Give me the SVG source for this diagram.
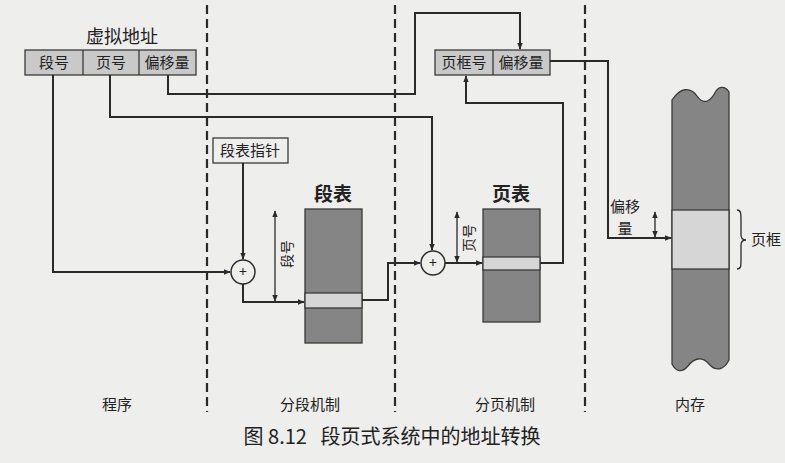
<svg xmlns="http://www.w3.org/2000/svg" width="785" height="463" viewBox="0 0 785 463">
<style>
.t{font-family:"Noto Sans CJK SC","Noto Sans",sans-serif;fill:#222;}
.ln{fill:none;stroke:#2a2a2a;stroke-width:2;}
.dash{fill:none;stroke:#2a2a2a;stroke-width:2.2;stroke-dasharray:9,5;}
.box{fill:#c9c9c9;stroke:#3a3a3a;stroke-width:1.3;}
.dark{fill:#858585;stroke:#3a3a3a;stroke-width:1.3;}
.light{fill:#d6d6d6;stroke:#3a3a3a;stroke-width:1.3;}
</style>
<defs>
<marker id="ah" viewBox="0 0 10 10" refX="9" refY="5" markerWidth="7" markerHeight="7" orient="auto-start-reverse" markerUnits="userSpaceOnUse">
<path d="M0,1 L10,5 L0,9 Z" fill="#2a2a2a"/>
</marker>
</defs>
<rect width="785" height="463" fill="#eeeeec"/>

<g id="dividers">
<line class="dash" x1="207" y1="5" x2="207" y2="412"/>
<line class="dash" x1="395" y1="5" x2="395" y2="412"/>
<line class="dash" x1="585" y1="5" x2="585" y2="412"/>
</g>

<g id="virtual-address">
<text class="t" x="122" y="43" font-size="18" text-anchor="middle">虚拟地址</text>
<rect class="box" x="25" y="50" width="171" height="25"/>
<line stroke="#3a3a3a" stroke-width="1.3" x1="83" y1="50" x2="83" y2="75"/>
<line stroke="#3a3a3a" stroke-width="1.3" x1="139" y1="50" x2="139" y2="75"/>
<text class="t" x="54" y="68" font-size="15" text-anchor="middle">段号</text>
<text class="t" x="111" y="68" font-size="15" text-anchor="middle">页号</text>
<text class="t" x="167" y="68" font-size="15" text-anchor="middle">偏移量</text>
</g>

<g id="seg-pointer">
<rect x="213" y="138" width="75" height="25" fill="#eeeeec" stroke="#3a3a3a" stroke-width="1.3"/>
<text class="t" x="250" y="156" font-size="15" text-anchor="middle">段表指针</text>
</g>

<g id="adder1">
<circle cx="243" cy="272" r="12" fill="#eeeeec" stroke="#2a2a2a" stroke-width="1.5"/>
<text class="t" x="243" y="277" font-size="14" text-anchor="middle">+</text>
</g>

<g id="segment-table">
<text class="t" x="333" y="201" font-size="19" font-weight="bold" text-anchor="middle">段表</text>
<rect class="dark" x="305" y="209" width="57" height="134"/>
<rect class="light" x="305" y="293" width="57" height="15"/>
</g>

<g id="adder2">
<circle cx="433" cy="263" r="12" fill="#eeeeec" stroke="#2a2a2a" stroke-width="1.5"/>
<text class="t" x="433" y="268" font-size="14" text-anchor="middle">+</text>
</g>

<g id="page-table">
<text class="t" x="511" y="201" font-size="19" font-weight="bold" text-anchor="middle">页表</text>
<rect class="dark" x="483" y="209" width="57" height="113"/>
<rect class="light" x="483" y="257" width="57" height="13"/>
</g>

<g id="physical-address">
<rect class="box" x="435" y="50" width="115" height="25"/>
<line stroke="#3a3a3a" stroke-width="1.3" x1="493" y1="50" x2="493" y2="75"/>
<text class="t" x="464" y="68" font-size="15" text-anchor="middle">页框号</text>
<text class="t" x="521" y="68" font-size="15" text-anchor="middle">偏移量</text>
</g>

<g id="memory">
<path class="dark" d="M672,100 C680,88 690,86 697,96 C704,106 711,101 716,91 C720,85 726,87 729,92 L729,360 C724,370 716,372 709,364 C702,356 694,358 688,366 C682,373 676,372 672,364 Z"/>
<rect class="light" x="672" y="210" width="57" height="59"/>
<path d="M737,210 C741,210 741,214 741,220 L741,235 C741,239 743,240 746,240 C743,240 741,241 741,245 L741,260 C741,266 741,269 737,269" fill="none" stroke="#2a2a2a" stroke-width="1.3"/>
<text class="t" x="766" y="245" font-size="15" text-anchor="middle">页框</text>
<text class="t" x="625" y="212" font-size="15" text-anchor="middle">偏移</text>
<text class="t" x="625" y="234" font-size="15" text-anchor="middle">量</text>
</g>

<g id="connectors">
<polyline class="ln" points="53,75 53,272 230,272" marker-end="url(#ah)"/>
<line class="ln" x1="243" y1="163" x2="243" y2="259" marker-end="url(#ah)"/>
<polyline class="ln" points="243,284 243,302 304,302" marker-end="url(#ah)"/>
<line class="ln" x1="275" y1="211" x2="275" y2="301" marker-start="url(#ah)" marker-end="url(#ah)" style="stroke-width:1.3"/>
<text class="t" x="0" y="0" font-size="14" text-anchor="middle" transform="translate(292,254) rotate(-90)">段号</text>
<polyline class="ln" points="362,300 388,300 388,263 420,263" marker-end="url(#ah)"/>
<polyline class="ln" points="110,75 110,117 432,117 432,250" marker-end="url(#ah)"/>
<line class="ln" x1="445" y1="263" x2="482" y2="263" marker-end="url(#ah)"/>
<line class="ln" x1="457" y1="212" x2="457" y2="262" marker-start="url(#ah)" marker-end="url(#ah)" style="stroke-width:1.3"/>
<text class="t" x="0" y="0" font-size="14" text-anchor="middle" transform="translate(474,238) rotate(-90)">页号</text>
<polyline class="ln" points="540,263 563,263 563,103 466,103 466,76" marker-end="url(#ah)"/>
<polyline class="ln" points="168,75 168,94 415,94 415,13 520,13 520,49" marker-end="url(#ah)"/>
<polyline class="ln" points="550,61 608,61 608,238 671,238" marker-end="url(#ah)"/>
<line class="ln" x1="655" y1="212" x2="655" y2="237" marker-start="url(#ah)" marker-end="url(#ah)" style="stroke-width:1.3"/>
</g>

<g id="labels">
<text class="t" x="117" y="410" font-size="15" text-anchor="middle">程序</text>
<text class="t" x="310" y="410" font-size="15" text-anchor="middle">分段机制</text>
<text class="t" x="505" y="410" font-size="15" text-anchor="middle">分页机制</text>
<text class="t" x="690" y="410" font-size="15" text-anchor="middle">内存</text>
<text class="t" x="392" y="444" font-size="20" text-anchor="middle" xml:space="preserve">图 8.12   段页式系统中的地址转换</text>
</g>
</svg>
